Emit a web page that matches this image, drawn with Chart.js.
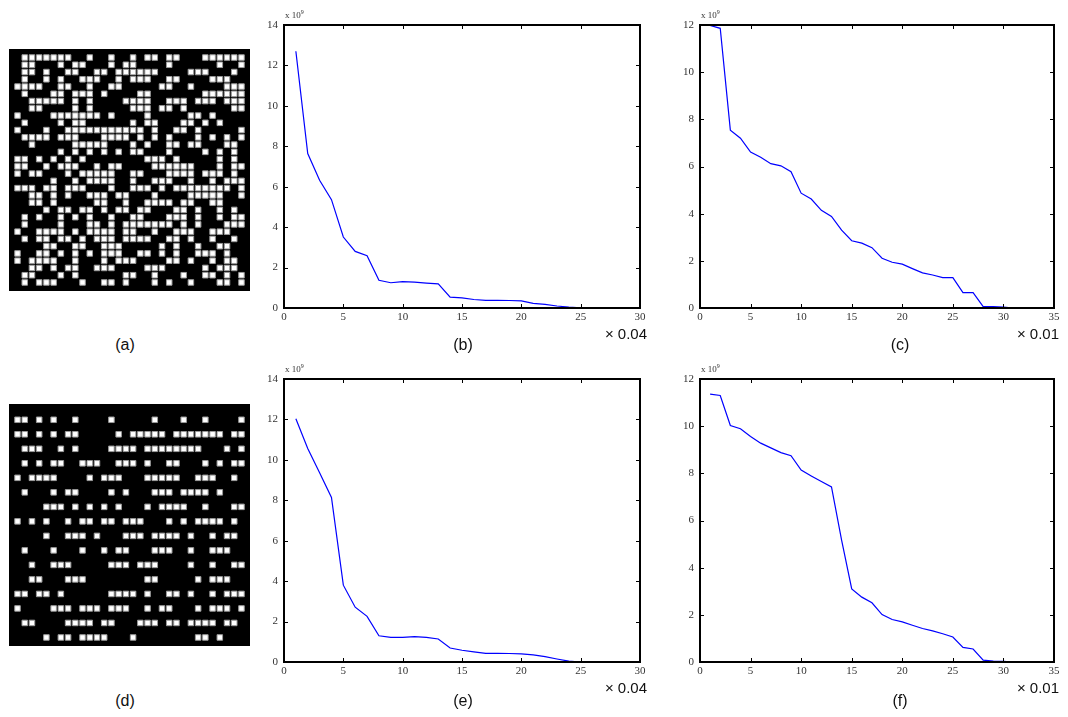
<!DOCTYPE html>
<html>
<head>
<meta charset="utf-8">
<script src="https://cdn.jsdelivr.net/npm/chart.js@4.4.0/dist/chart.umd.min.js"></script>
<style>
  body { margin: 0; background: #fff; }
  #page { position: relative; width: 1068px; height: 717px; overflow: hidden; font-family: "Liberation Sans", Arial, sans-serif; }
  canvas { position: absolute; }
  .mat { background: #000; }
  .cap { position: absolute; font-size: 16px; color: #111; transform: translate(-50%, -50%); white-space: nowrap; }
  .mul { position: absolute; font-size: 15px; color: #111; transform: translate(-50%, -50%); white-space: nowrap; }
  .exp { position: absolute; font-family: "Liberation Serif", serif; font-size: 9px; line-height: 9px; color: #333; white-space: nowrap; }
  .exp sup { font-size: 6px; vertical-align: 4px; line-height: 0; }
</style>
</head>
<body>
<div id="page">
  <canvas id="matA" class="mat" width="241" height="242" style="left:9px;top:49px"></canvas>
  <canvas id="matD" class="mat" width="241" height="242" style="left:9px;top:404px"></canvas>
  <canvas id="chartB" width="440" height="340" style="left:230px;top:0px"></canvas>
  <canvas id="chartC" width="422" height="340" style="left:646px;top:0px"></canvas>
  <canvas id="chartE" width="440" height="340" style="left:230px;top:354px"></canvas>
  <canvas id="chartF" width="422" height="340" style="left:646px;top:354px"></canvas>

  <div class="exp" style="left:285px;top:11px">x 10<sup>9</sup></div>
  <div class="exp" style="left:701px;top:11px">x 10<sup>9</sup></div>
  <div class="exp" style="left:285px;top:365px">x 10<sup>9</sup></div>
  <div class="exp" style="left:701px;top:365px">x 10<sup>9</sup></div>

  <div class="mul" style="left:626px;top:333px">&times; 0.04</div>
  <div class="mul" style="left:1038px;top:333px">&times; 0.01</div>
  <div class="mul" style="left:626px;top:687px">&times; 0.04</div>
  <div class="mul" style="left:1038px;top:687px">&times; 0.01</div>

  <div class="cap" style="left:125px;top:345px">(a)</div>
  <div class="cap" style="left:463px;top:345px">(b)</div>
  <div class="cap" style="left:900px;top:345px">(c)</div>
  <div class="cap" style="left:125px;top:701px">(d)</div>
  <div class="cap" style="left:463px;top:701px">(e)</div>
  <div class="cap" style="left:900px;top:701px">(f)</div>
</div>
<script>
// white cells of matrix (a): column indexes per row, 32 x 32
var rowsA = [
  [1,2,3,4,5,6,7,10,13,16,18,19,21,22,26,27,28,29,30,31],
  [1,2,6,8,9,13,15,16,21,28,31],
  [1,2,4,7,8,11,12,14,15,16,17,18,19,24,25,26,30],
  [1,4,6,9,10,11,14,16,17,18,21,22,27,28,29],
  [0,1,2,3,6,7,10,13,14,20,21,24,29,30,31],
  [1,5,6,8,9,10,12,17,18,26,27,28,29,30,31],
  [2,3,4,5,6,8,10,15,16,17,18,21,22,23,25,26,27,29,30,31],
  [2,3,8,10,16,17,18,20,21,23,30,31],
  [0,5,6,7,8,9,10,11,13,18,24,25,27],
  [1,6,8,9,16,18,19,23,24,26,28],
  [0,4,7,8,9,10,11,12,13,14,15,16,17,19,22,23,25,31],
  [1,2,3,4,6,7,8,12,13,14,15,17,19,21,25,27,29,31],
  [2,8,9,10,11,12,16,18,21,22,24,25,29,30],
  [6,8,10,12,14,16,17,21,26,28,30],
  [0,1,3,5,7,9,18,19,20,22,28,30],
  [0,1,4,6,7,8,11,13,14,19,20,21,22,23,24,28,30,31],
  [0,2,3,7,9,10,11,12,13,16,17,21,22,23,24,26,27,28,30],
  [5,8,10,11,12,13,16,19,20,21,24,27,29,30,31],
  [0,1,2,4,5,7,8,9,13,16,17,18,20,22,23,24,25,26,27,28,29,31],
  [2,3,5,7,10,11,12,14,15,19,24,25,26,27,28,31],
  [2,3,5,11,12,15,18,19,20,21,23,24,27,28],
  [4,6,7,9,10,12,14,15,17,18,22,23,25,28,30],
  [1,3,6,8,10,13,16,17,21,22,23,25,28,30,31],
  [1,6,10,11,13,15,16,17,18,19,20,21,23,25,29,30,31],
  [0,3,4,5,6,8,10,11,12,13,15,16,19,22,23,24,27,28,29],
  [1,3,4,6,7,9,11,12,13,15,16,17,18,21,22,24,27,30],
  [4,5,8,9,12,13,14,20,22,25,28,29],
  [0,3,4,6,8,10,12,13,14,17,18,20,22,25,26,27,29],
  [0,2,3,4,5,8,12,14,15,16,21,22,24,27,29,30],
  [2,3,5,7,8,11,12,13,18,19,20,26,28,29,30],
  [1,2,6,8,15,16,19,23,26,27,29,31],
  [1,3,4,5,9,12,13,15,19,21,24,28,29,31]
];

// white cells of matrix (d): only every second row is used (rows 1,3,...,31)
var rowsD = [
  [0,1,3,5,8,13,19,23,26,31],
  [0,1,3,5,7,8,14,16,17,18,19,20,22,23,24,25,26,27,28,30,31],
  [1,2,3,6,8,13,14,15,16,18,19,20,21,22,23,24,25,29,31],
  [1,3,5,6,9,10,11,14,15,16,18,21,22,26,28,30,31],
  [0,2,3,4,5,10,12,13,14,18,19,20,21,22,25,26,27,30],
  [1,5,7,8,13,15,19,20,21,23,24,25,26,28],
  [4,5,6,8,10,12,14,18,20,21,22,23,26,30,31],
  [0,2,4,7,9,10,12,13,15,16,17,21,23,25,26,27,28,30],
  [4,7,8,9,11,15,16,17,19,20,21,22,24,27,29,30],
  [1,5,9,12,14,15,19,20,21,24,27,28,29],
  [2,5,6,7,13,14,15,17,18,19,24,27,30,31],
  [2,3,7,8,9,18,19,25,27,28,29],
  [0,1,3,4,6,13,14,15,16,18,21,22,24,27,29,30,31],
  [0,5,6,7,9,10,11,13,14,15,18,20,21,25,27,28,29,31],
  [1,2,7,8,9,10,12,13,17,18,19,21,22,24,25,26,27,29,30],
  [4,6,7,9,10,11,12,16,25,26,28]
];

// curves, values in units of 1e9, x = 1, 2, 3, ...
var valsB = [12.7, 7.64, 6.32, 5.36, 3.51, 2.8, 2.59, 1.37, 1.25, 1.3, 1.28, 1.23, 1.19,
             0.54, 0.5, 0.42, 0.38, 0.38, 0.37, 0.35, 0.23, 0.18, 0.1, 0.04, 0.01, 0.0];
var valsC = [11.98, 11.86, 7.54, 7.2, 6.61, 6.39, 6.12, 6.03, 5.78, 4.87, 4.62, 4.14, 3.88,
             3.3, 2.85, 2.75, 2.56, 2.11, 1.94, 1.86, 1.67, 1.49, 1.4, 1.29, 1.29, 0.65, 0.65,
             0.06, 0.06, 0.04, 0.0];
var valsE = [12.03, 10.56, 9.36, 8.14, 3.8, 2.71, 2.26, 1.3, 1.22, 1.22, 1.26, 1.22, 1.14,
             0.69, 0.58, 0.5, 0.43, 0.43, 0.42, 0.4, 0.35, 0.27, 0.15, 0.04, 0.0, 0.0];
var valsF = [11.36, 11.3, 10.03, 9.89, 9.56, 9.28, 9.08, 8.88, 8.75, 8.14, 7.89, 7.65, 7.42,
             5.17, 3.1, 2.75, 2.51, 2.01, 1.8, 1.7, 1.56, 1.42, 1.32, 1.2, 1.06, 0.62, 0.55,
             0.08, 0.04, 0.03, 0.0];

var tickFont = { family: '"Liberation Serif", "DejaVu Serif", serif', size: 11 };

// matlab-like box with inward ticks on all four sides
var boxTicks = {
  id: 'boxTicks',
  afterDraw: function(chart) {
    var ctx = chart.ctx, a = chart.chartArea, x = chart.scales.x, y = chart.scales.y;
    ctx.save();
    ctx.strokeStyle = '#000';
    ctx.lineWidth = 1;
    ctx.beginPath();
    x.ticks.forEach(function(t) {
      var px = Math.round(x.getPixelForValue(t.value)) + 0.5;
      ctx.moveTo(px, a.bottom); ctx.lineTo(px, a.bottom - 4);
      ctx.moveTo(px, a.top); ctx.lineTo(px, a.top + 4);
    });
    y.ticks.forEach(function(t) {
      var py = Math.round(y.getPixelForValue(t.value)) + 0.5;
      ctx.moveTo(a.left, py); ctx.lineTo(a.left + 4, py);
      ctx.moveTo(a.right, py); ctx.lineTo(a.right - 4, py);
    });
    ctx.stroke();
    ctx.lineWidth = 2;
    ctx.strokeRect(a.left, a.top, a.right - a.left, a.bottom - a.top);
    ctx.restore();
  }
};

function matrixChart(id, rows, rowIndex) {
  var pts = [];
  rows.forEach(function(cols, r) {
    cols.forEach(function(c) { pts.push({ x: c + 0.5, y: rowIndex(r) + 0.5 }); });
  });
  new Chart(document.getElementById(id), {
    type: 'scatter',
    data: { datasets: [{ data: pts, pointStyle: 'rect', pointRadius: 3.9, pointHoverRadius: 3.9,
                         backgroundColor: '#fff', borderColor: '#9a9a9a', borderWidth: 1 }] },
    options: {
      responsive: false, animation: false, events: [],
      layout: { padding: 0 },
      plugins: { legend: { display: false }, tooltip: { enabled: false } },
      scales: {
        x: { display: false, min: 0, max: 32 },
        y: { display: false, min: 0, max: 32, reverse: true }
      }
    }
  });
}

// pad = [left, top, right, bottom] so the plot box lands where the picture has it
function lineChart(id, vals, xmax, ymax, pad) {
  new Chart(document.getElementById(id), {
    type: 'line',
    data: { datasets: [{ data: vals.map(function(v, i) { return { x: i + 1, y: v }; }),
                         borderColor: '#0000ff', borderWidth: 1.2, pointRadius: 0, tension: 0, fill: false }] },
    options: {
      responsive: false, animation: false, events: [],
      layout: { padding: { left: pad[0], top: pad[1], right: pad[2], bottom: pad[3] } },
      plugins: { legend: { display: false }, tooltip: { enabled: false } },
      scales: {
        x: { type: 'linear', min: 0, max: xmax,
             ticks: { stepSize: 5, font: tickFont, color: '#333', padding: 3, maxRotation: 0 },
             grid: { display: false, drawTicks: false, tickLength: 0 }, border: { display: false },
             afterFit: function(s) { s.height = 20; } },
        y: { type: 'linear', min: 0, max: ymax,
             ticks: { stepSize: 2, font: tickFont, color: '#333', padding: 6 },
             grid: { display: false, drawTicks: false, tickLength: 0 }, border: { display: false },
             afterFit: function(s) { s.width = 40; } }
      }
    },
    plugins: [boxTicks]
  });
}

matrixChart('matA', rowsA, function(r) { return r; });
matrixChart('matD', rowsD, function(r) { return 2 * r + 1; });

lineChart('chartB', valsB, 30, 14, [14, 25, 30, 12]);
lineChart('chartC', valsC, 35, 12, [14, 25, 14, 12]);
lineChart('chartE', valsE, 30, 14, [14, 25, 30, 12]);
lineChart('chartF', valsF, 35, 12, [14, 25, 14, 12]);
</script>
</body>
</html>
